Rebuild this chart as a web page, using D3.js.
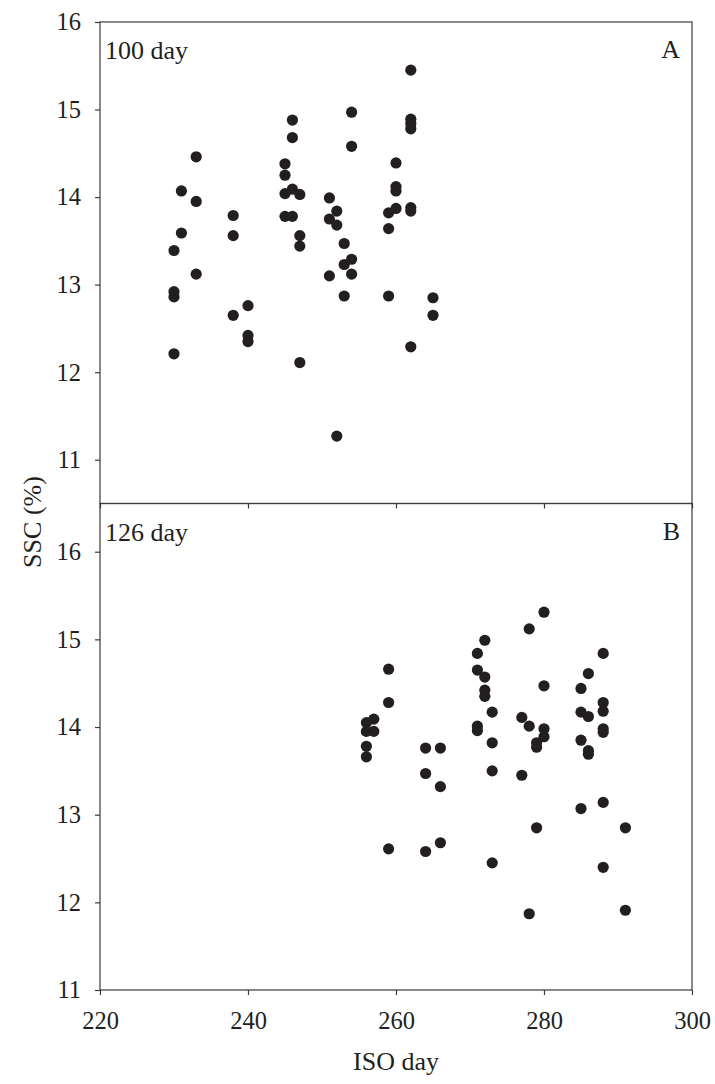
<!DOCTYPE html>
<html>
<head>
<meta charset="utf-8">
<script src="https://cdn.jsdelivr.net/npm/d3@7"></script>
<style>
  html, body { margin: 0; padding: 0; background: #fff; }
  svg { display: block; }
  text { font-family: "Liberation Serif", "Times New Roman", serif; fill: #231f20; }
</style>
</head>
<body>
<svg id="chart" width="715" height="1084"></svg>
<script>
// SSC (%) of fruit sampled on each ISO day, after 100 days (A) and 126 days (B)
const daysA = [230,230,230,230, 231,231, 233,233,233, 238,238,238, 240,240,240,
  245,245,245,245, 246,246,246,246, 247,247,247,247, 251,251,251, 252,252,252,
  253,253,253, 254,254,254,254, 259,259,259, 260,260,260,260,
  262,262,262,262,262,262,262, 265,265];
const sscA = [13.39,12.92,12.86,12.21, 14.07,13.59, 14.46,13.95,13.12, 13.79,13.56,12.65, 12.76,12.42,12.35,
  14.38,14.25,14.04,13.78, 14.88,14.68,14.09,13.78, 14.03,13.56,13.44,12.11, 13.99,13.75,13.10, 13.84,13.68,11.27,
  13.47,13.23,12.87, 14.97,14.58,13.29,13.12, 13.82,13.64,12.87, 14.39,14.12,14.07,13.87,
  15.45,14.89,14.84,14.78,13.88,13.84,12.29, 12.85,12.65];

const daysB = [256,256,256,256, 257,257, 259,259,259, 264,264,264, 266,266,266,
  271,271,271,271, 272,272,272,272, 273,273,273,273, 277,277, 278,278,278,
  279,279,279, 280,280,280,280, 285,285,285,285, 286,286,286,286,
  288,288,288,288,288,288,288, 291,291];
const sscB = [14.05,13.95,13.78,13.66, 14.09,13.95, 14.66,14.28,12.61, 13.76,13.47,12.58, 13.76,13.32,12.68,
  14.84,14.65,14.01,13.96, 14.99,14.57,14.42,14.35, 14.17,13.82,13.50,12.45, 14.11,13.45, 15.12,14.01,11.87,
  13.82,13.77,12.85, 15.31,14.47,13.98,13.89, 14.44,14.17,13.85,13.07, 14.61,14.12,13.73,13.69,
  14.84,14.28,14.18,13.98,13.94,13.14,12.40, 12.85,11.91];

const xTicks = [220, 240, 260, 280, 300];
const yTicks = [11, 12, 13, 14, 15, 16];

const svg = d3.select("#chart");
const ink = "#231f20";
const frame = "#3a3a3a";

const left = 100, right = 692;
const topA = 22, mid = 503.5, bottomB = 990;

const x = d3.scaleLinear().domain([220, 300]).range([left, right]);
const yA = d3.scaleLinear().domain([10.5, 16]).range([mid, topA]);
const yB = d3.scaleLinear().domain([11, 16.55]).range([bottomB, mid]);

function panel(y, days, ssc, tag, letter, showXLabels) {
  const top = y.range()[1], bottom = y.range()[0];

  // frame
  svg.append("rect")
    .attr("x", left).attr("y", top)
    .attr("width", right - left).attr("height", bottom - top)
    .attr("fill", "none").attr("stroke", frame).attr("stroke-width", 1.2);

  // left axis
  const ya = svg.append("g")
    .attr("transform", `translate(${left},0)`)
    .call(d3.axisLeft(y).tickValues(yTicks).tickSize(5).tickPadding(14).tickFormat(d3.format("d")));
  ya.select(".domain").remove();
  ya.selectAll("line").attr("stroke", frame).attr("stroke-width", 1.2);
  ya.selectAll("text").attr("font-size", 24.5).attr("fill", ink);

  // bottom axis
  const xa = svg.append("g")
    .attr("transform", `translate(0,${bottom})`)
    .call(d3.axisBottom(x).tickValues(xTicks).tickSize(5).tickPadding(17).tickFormat(showXLabels ? d3.format("d") : () => ""));
  xa.select(".domain").remove();
  xa.selectAll("line").attr("stroke", frame).attr("stroke-width", 1.2);
  xa.selectAll("text").attr("font-size", 24.5).attr("fill", ink);

  // points
  svg.append("g").selectAll("circle")
    .data(days.map((d, i) => ({ day: d, ssc: ssc[i] })))
    .join("circle")
    .attr("cx", d => x(d.day))
    .attr("cy", d => y(d.ssc))
    .attr("r", 5.6)
    .attr("fill", ink);

  // panel labels
  svg.append("text").attr("x", left + 5).attr("y", top + 37)
    .attr("font-size", 26).text(tag);
  svg.append("text").attr("x", right - 12).attr("y", top + 36)
    .attr("text-anchor", "end").attr("font-size", 26).text(letter);
}

panel(yA, daysA, sscA, "100 day", "A", false);
panel(yB, daysB, sscB, "126 day", "B", true);

// axis titles
svg.append("text")
  .attr("x", (left + right) / 2).attr("y", 1070)
  .attr("text-anchor", "middle").attr("font-size", 26)
  .text("ISO day");

svg.append("text")
  .attr("transform", `translate(41,522) rotate(-90)`)
  .attr("text-anchor", "middle").attr("font-size", 26)
  .text("SSC (%)");
</script>
</body>
</html>
